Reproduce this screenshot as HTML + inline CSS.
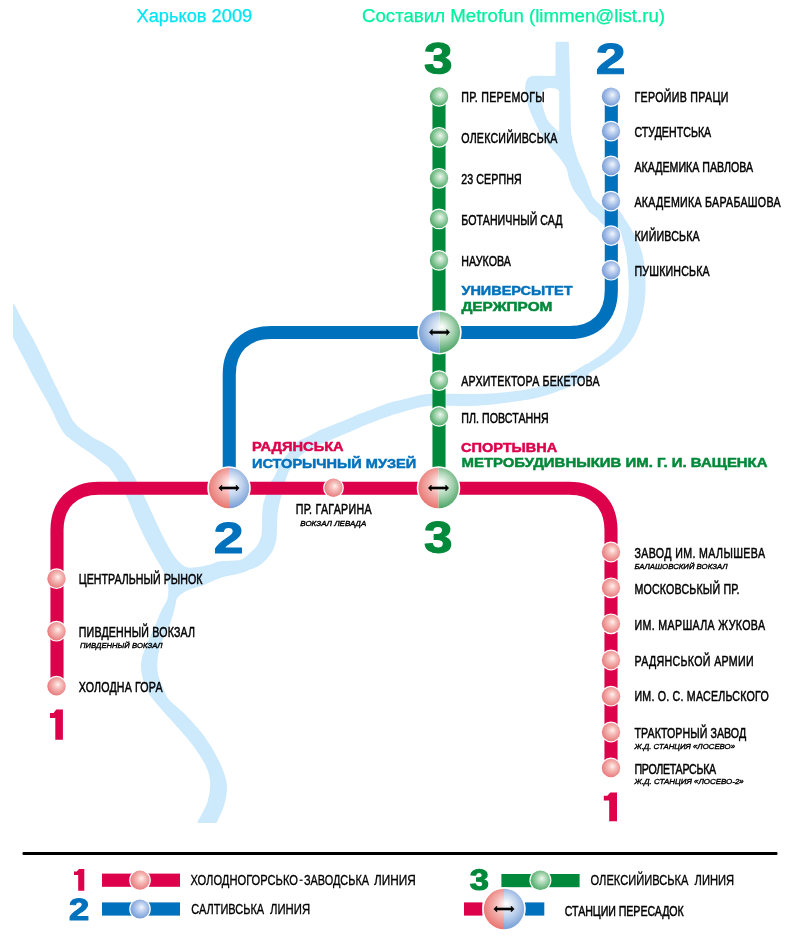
<!DOCTYPE html>
<html><head><meta charset="utf-8"><style>
html,body{margin:0;padding:0;background:#fff;width:800px;height:950px;overflow:hidden}
svg{display:block;will-change:transform}
</style></head><body>
<svg width="800" height="950" viewBox="0 0 800 950">
<defs><radialGradient id="gR" cx="0.55" cy="0.45" r="0.58" fx="0.58" fy="0.4"><stop offset="0" stop-color="#fff2ee"/><stop offset="0.35" stop-color="#f6c0bc"/><stop offset="1" stop-color="#e8767a"/></radialGradient><radialGradient id="gB" cx="0.55" cy="0.45" r="0.58" fx="0.58" fy="0.4"><stop offset="0" stop-color="#f2f6fd"/><stop offset="0.35" stop-color="#c2d3ef"/><stop offset="1" stop-color="#6f98d6"/></radialGradient><radialGradient id="gG" cx="0.55" cy="0.45" r="0.58" fx="0.58" fy="0.4"><stop offset="0" stop-color="#eef6ef"/><stop offset="0.35" stop-color="#b4dcbc"/><stop offset="1" stop-color="#48a863"/></radialGradient><radialGradient id="t1R" gradientUnits="userSpaceOnUse" cx="440.5" cy="330.3" r="24" fx="442.0" fy="326.8"><stop offset="0" stop-color="#ffffff"/><stop offset="0.2" stop-color="#f9dede"/><stop offset="0.5" stop-color="#f2b0ac"/><stop offset="1" stop-color="#e86e6a"/></radialGradient><radialGradient id="t1B" gradientUnits="userSpaceOnUse" cx="440.5" cy="330.3" r="24" fx="442.0" fy="326.8"><stop offset="0" stop-color="#ffffff"/><stop offset="0.2" stop-color="#e4ecf7"/><stop offset="0.5" stop-color="#bdd0ec"/><stop offset="1" stop-color="#6c98d3"/></radialGradient><radialGradient id="t1G" gradientUnits="userSpaceOnUse" cx="440.5" cy="330.3" r="24" fx="442.0" fy="326.8"><stop offset="0" stop-color="#ffffff"/><stop offset="0.2" stop-color="#ddeee1"/><stop offset="0.5" stop-color="#a8d3b2"/><stop offset="1" stop-color="#3f9e5c"/></radialGradient><radialGradient id="t2R" gradientUnits="userSpaceOnUse" cx="230" cy="486" r="24" fx="231.5" fy="482.5"><stop offset="0" stop-color="#ffffff"/><stop offset="0.2" stop-color="#f9dede"/><stop offset="0.5" stop-color="#f2b0ac"/><stop offset="1" stop-color="#e86e6a"/></radialGradient><radialGradient id="t2B" gradientUnits="userSpaceOnUse" cx="230" cy="486" r="24" fx="231.5" fy="482.5"><stop offset="0" stop-color="#ffffff"/><stop offset="0.2" stop-color="#e4ecf7"/><stop offset="0.5" stop-color="#bdd0ec"/><stop offset="1" stop-color="#6c98d3"/></radialGradient><radialGradient id="t2G" gradientUnits="userSpaceOnUse" cx="230" cy="486" r="24" fx="231.5" fy="482.5"><stop offset="0" stop-color="#ffffff"/><stop offset="0.2" stop-color="#ddeee1"/><stop offset="0.5" stop-color="#a8d3b2"/><stop offset="1" stop-color="#3f9e5c"/></radialGradient><radialGradient id="t3R" gradientUnits="userSpaceOnUse" cx="439.5" cy="486" r="24" fx="441.0" fy="482.5"><stop offset="0" stop-color="#ffffff"/><stop offset="0.2" stop-color="#f9dede"/><stop offset="0.5" stop-color="#f2b0ac"/><stop offset="1" stop-color="#e86e6a"/></radialGradient><radialGradient id="t3B" gradientUnits="userSpaceOnUse" cx="439.5" cy="486" r="24" fx="441.0" fy="482.5"><stop offset="0" stop-color="#ffffff"/><stop offset="0.2" stop-color="#e4ecf7"/><stop offset="0.5" stop-color="#bdd0ec"/><stop offset="1" stop-color="#6c98d3"/></radialGradient><radialGradient id="t3G" gradientUnits="userSpaceOnUse" cx="439.5" cy="486" r="24" fx="441.0" fy="482.5"><stop offset="0" stop-color="#ffffff"/><stop offset="0.2" stop-color="#ddeee1"/><stop offset="0.5" stop-color="#a8d3b2"/><stop offset="1" stop-color="#3f9e5c"/></radialGradient><radialGradient id="t4R" gradientUnits="userSpaceOnUse" cx="505" cy="907" r="24" fx="506.5" fy="903.5"><stop offset="0" stop-color="#ffffff"/><stop offset="0.2" stop-color="#f9dede"/><stop offset="0.5" stop-color="#f2b0ac"/><stop offset="1" stop-color="#e86e6a"/></radialGradient><radialGradient id="t4B" gradientUnits="userSpaceOnUse" cx="505" cy="907" r="24" fx="506.5" fy="903.5"><stop offset="0" stop-color="#ffffff"/><stop offset="0.2" stop-color="#e4ecf7"/><stop offset="0.5" stop-color="#bdd0ec"/><stop offset="1" stop-color="#6c98d3"/></radialGradient><radialGradient id="t4G" gradientUnits="userSpaceOnUse" cx="505" cy="907" r="24" fx="506.5" fy="903.5"><stop offset="0" stop-color="#ffffff"/><stop offset="0.2" stop-color="#ddeee1"/><stop offset="0.5" stop-color="#a8d3b2"/><stop offset="1" stop-color="#3f9e5c"/></radialGradient></defs>
<path d="M13.8,305.0 C13.8,310.4 13.8,332.1 13.8,337.5 C14.8,339.5 17.8,345.2 20.0,349.3 C22.2,353.4 24.4,357.5 26.7,361.9 C28.9,366.2 31.1,370.9 33.5,375.4 C35.9,379.9 38.6,384.6 41.0,388.8 C43.4,393.0 45.8,396.9 47.8,400.6 C49.8,404.3 51.4,407.4 53.2,411.0 C55.0,414.6 56.6,418.8 58.5,422.5 C60.4,426.2 62.6,430.2 64.8,433.0 C66.9,435.8 69.0,437.0 71.5,439.0 C74.0,441.0 76.9,443.0 79.8,445.0 C82.6,447.0 85.9,449.0 88.8,451.0 C91.6,453.0 94.4,455.0 97.0,457.0 C99.6,459.0 102.0,460.9 104.5,463.0 C107.0,465.1 108.3,464.4 112.0,469.8 C115.7,475.1 122.8,487.2 126.9,495.2 C131.0,503.2 133.3,511.0 136.4,517.9 C139.5,524.8 142.1,530.5 145.3,536.8 C148.5,543.1 152.5,550.5 155.4,555.8 C158.3,561.1 160.8,564.2 162.9,568.4 C165.0,572.6 166.9,577.4 168.0,581.0 C169.1,584.6 169.2,586.6 169.2,589.8 C169.2,593.0 169.2,596.4 168.0,600.0 C166.8,603.6 163.7,607.2 161.7,611.6 C159.7,616.0 157.9,621.4 155.8,626.3 C153.7,631.2 151.3,636.1 149.2,641.0 C147.1,645.9 144.5,651.6 143.3,655.8 C142.1,660.0 141.8,662.3 141.8,666.0 C141.8,669.7 142.1,673.5 143.3,677.9 C144.5,682.3 147.2,688.8 149.2,692.6 C151.2,696.4 151.3,696.2 155.3,700.9 C159.3,705.6 167.1,714.3 173.0,721.0 C178.9,727.7 185.2,734.1 190.7,741.3 C196.2,748.5 202.4,757.3 205.8,764.0 C209.2,770.7 210.5,775.4 210.9,781.7 C211.3,788.0 210.4,795.2 208.3,802.0 C206.2,808.8 199.9,818.8 198.2,822.2 C201.1,822.2 212.9,822.2 215.9,822.2 C217.2,819.2 221.8,810.8 223.5,804.5 C225.2,798.2 226.8,791.5 226.0,784.3 C225.2,777.1 222.2,769.5 218.4,761.5 C214.6,753.5 208.8,743.8 203.3,736.2 C197.8,728.6 191.4,722.0 185.6,716.0 C179.8,710.0 172.2,704.6 168.3,700.0 C164.4,695.4 164.2,692.4 162.4,688.2 C160.6,684.0 158.3,679.1 157.3,674.9 C156.3,670.7 156.3,667.5 156.5,663.1 C156.7,658.7 157.6,652.8 158.7,648.4 C159.8,644.0 161.2,641.0 163.1,636.6 C164.9,632.2 168.0,626.8 169.8,621.9 C171.7,617.0 173.0,611.1 174.2,607.0 C175.4,602.9 174.7,600.3 176.8,597.4 C178.9,594.5 182.7,591.9 186.9,589.8 C191.1,587.7 196.5,586.9 202.0,584.8 C207.5,582.7 213.7,579.2 220.0,577.2 C226.3,575.2 235.4,573.9 240.0,572.6 C244.6,571.4 244.0,571.2 247.4,569.7 C250.8,568.2 256.7,566.8 260.6,563.8 C264.5,560.8 268.5,555.9 271.0,552.0 C273.5,548.1 274.5,544.1 275.4,540.2 C276.2,536.3 275.9,532.8 276.1,528.4 C276.3,524.0 276.3,518.1 276.8,513.7 C277.3,509.3 277.5,507.9 279.0,501.9 C280.5,495.9 284.0,482.8 285.6,477.5 C287.2,472.2 287.5,472.4 288.8,470.0 C290.0,467.6 291.5,465.3 293.1,463.1 C294.7,460.9 296.3,458.8 298.1,456.9 C299.9,455.0 302.0,453.3 303.8,451.9 C305.5,450.5 306.9,449.8 308.8,448.8 C310.6,447.7 313.1,446.5 315.0,445.6 C316.9,444.7 317.5,444.5 320.0,443.5 C322.5,442.5 326.7,440.9 330.0,439.5 C333.3,438.1 336.7,436.4 340.0,435.0 C343.3,433.6 346.7,432.4 350.0,431.0 C353.3,429.6 356.7,427.9 360.0,426.5 C363.3,425.1 366.7,423.8 370.0,422.5 C373.3,421.2 376.7,419.8 380.0,418.5 C383.3,417.2 386.7,416.1 390.0,415.0 C393.3,413.9 396.7,413.0 400.0,412.0 C403.3,411.0 406.7,409.9 410.0,409.0 C413.3,408.1 416.7,407.2 420.0,406.5 C423.3,405.8 425.7,405.2 430.0,405.0 C434.3,404.8 437.7,405.0 446.0,405.0 C454.3,405.0 469.3,405.4 480.0,404.8 C490.7,404.2 500.0,402.9 510.0,401.5 C520.0,400.1 530.0,398.9 540.0,396.2 C550.0,393.6 562.5,388.9 570.0,385.8 C577.5,382.6 581.7,379.9 585.0,377.5 C588.3,375.1 586.4,374.3 590.0,371.6 C593.6,368.9 601.2,365.4 606.8,361.5 C612.4,357.6 619.2,352.5 623.7,348.0 C628.2,343.5 631.0,339.6 633.8,334.5 C636.6,329.4 638.8,323.3 640.5,317.7 C642.2,312.1 643.2,306.4 643.9,300.8 C644.6,295.2 644.7,289.6 644.7,284.0 C644.7,278.4 644.6,272.8 643.9,267.2 C643.2,261.6 642.2,255.6 640.5,250.3 C638.8,245.0 636.5,240.4 633.8,235.2 C631.0,230.0 626.6,223.0 624.0,219.0 C621.4,215.0 621.0,212.8 618.0,211.0 C615.0,209.2 609.0,209.4 606.0,208.5 C603.0,207.6 602.2,207.2 600.0,205.5 C597.8,203.8 594.2,200.6 592.5,198.0 C590.8,195.4 590.8,193.3 589.5,190.0 C588.2,186.7 586.5,181.8 585.0,178.0 C583.5,174.2 581.9,170.8 580.5,167.5 C579.1,164.2 578.1,163.5 576.5,158.0 C574.9,152.5 571.7,142.7 570.6,134.3 C569.5,125.9 570.1,117.5 569.8,107.4 C569.5,97.3 569.3,84.5 569.0,73.7 C568.7,62.9 568.2,47.7 568.0,42.5 C566.0,42.5 558.2,42.5 556.3,42.5 C556.3,48.2 556.3,70.8 556.3,76.5 C555.0,76.5 552.8,76.8 548.7,76.8 C544.6,76.8 535.5,75.9 531.9,76.8 C528.2,77.7 527.8,79.8 526.8,82.1 C525.8,84.4 525.7,86.8 526.0,90.5 C526.3,94.2 527.2,99.5 528.5,104.0 C529.8,108.5 531.4,112.5 533.6,117.5 C535.9,122.5 538.9,129.2 542.0,134.3 C545.1,139.4 548.9,143.9 552.0,147.8 C555.1,151.7 558.0,154.5 560.5,157.9 C563.0,161.3 565.4,164.4 567.0,168.0 C568.6,171.6 568.8,175.8 570.0,179.5 C571.2,183.2 572.2,186.2 574.5,190.0 C576.8,193.8 581.0,198.5 583.5,202.0 C586.0,205.5 587.2,208.5 589.5,211.0 C591.8,213.5 594.5,214.8 597.0,217.0 C599.5,219.2 601.0,222.9 604.5,224.5 C608.0,226.1 614.6,224.1 617.8,226.7 C621.0,229.3 622.2,235.7 623.7,240.2 C625.2,244.7 626.2,248.6 627.0,253.7 C627.8,258.8 628.3,264.9 628.7,270.5 C629.1,276.1 629.6,281.8 629.6,287.4 C629.6,293.0 629.4,298.6 628.7,304.2 C628.0,309.8 627.1,315.4 625.4,321.0 C623.7,326.6 621.7,332.8 618.6,337.9 C615.5,343.0 611.6,347.2 606.8,351.4 C602.0,355.6 593.6,360.8 590.0,363.2 C586.4,365.6 588.3,363.6 585.0,365.5 C581.7,367.4 577.5,370.9 570.0,374.5 C562.5,378.1 550.0,384.2 540.0,387.2 C530.0,390.2 520.0,391.2 510.0,392.5 C500.0,393.8 490.7,394.5 480.0,394.8 C469.3,395.1 454.3,394.6 446.0,394.5 C437.7,394.4 434.3,394.2 430.0,394.5 C425.7,394.8 423.3,395.3 420.0,396.0 C416.7,396.7 413.3,397.7 410.0,398.5 C406.7,399.3 403.3,400.2 400.0,401.0 C396.7,401.8 393.3,402.5 390.0,403.5 C386.7,404.5 383.3,405.8 380.0,407.0 C376.7,408.2 373.3,409.8 370.0,411.0 C366.7,412.2 363.3,413.2 360.0,414.5 C356.7,415.8 353.3,417.6 350.0,419.0 C346.7,420.4 343.3,421.7 340.0,423.0 C336.7,424.3 333.3,425.7 330.0,427.0 C326.7,428.3 323.5,429.3 320.0,431.0 C316.5,432.7 312.2,435.2 308.8,437.0 C305.3,438.8 301.8,440.0 299.4,441.5 C297.0,443.0 296.2,444.2 294.4,446.2 C292.6,448.3 290.5,451.5 288.8,453.8 C287.0,456.0 285.4,457.5 283.8,460.0 C282.1,462.5 280.2,465.8 278.8,468.8 C277.3,471.7 276.3,475.1 275.0,477.5 C273.7,479.9 272.4,479.9 271.0,483.0 C269.6,486.1 267.7,492.1 266.5,496.0 C265.3,499.9 264.2,502.1 263.6,506.3 C263.0,510.5 263.1,516.1 262.8,521.0 C262.6,525.9 263.0,531.6 262.1,535.8 C261.2,540.0 259.9,542.9 257.7,546.1 C255.5,549.3 251.8,552.5 248.8,555.0 C245.9,557.5 244.8,559.6 240.0,560.8 C235.2,562.0 225.3,561.1 220.0,562.0 C214.7,562.9 212.9,564.8 208.4,565.9 C203.9,567.0 197.2,568.2 193.2,568.4 C189.2,568.6 187.1,568.4 184.4,567.1 C181.7,565.8 179.1,563.3 176.8,560.8 C174.5,558.3 173.2,556.6 170.5,552.0 C167.8,547.4 163.6,539.3 160.4,533.0 C157.2,526.7 154.6,520.4 151.6,514.1 C148.6,507.8 145.7,501.3 142.7,495.2 C139.7,489.1 136.7,482.9 133.8,477.5 C130.8,472.1 128.1,466.8 125.0,462.5 C121.9,458.2 117.9,454.4 115.0,451.8 C112.1,449.1 110.0,448.1 107.5,446.5 C105.0,444.9 102.5,443.4 100.0,442.0 C97.5,440.6 95.0,439.8 92.5,438.2 C90.0,436.8 87.5,434.9 85.0,433.0 C82.5,431.1 79.6,429.0 77.5,427.0 C75.4,425.0 73.8,423.2 72.2,421.0 C70.8,418.8 70.2,417.4 68.5,414.0 C66.8,410.6 64.3,405.1 62.1,400.6 C59.9,396.1 57.8,392.1 55.4,387.2 C53.0,382.3 50.2,376.3 47.8,371.2 C45.4,366.1 43.5,362.0 41.0,356.8 C38.5,351.6 35.5,345.4 32.6,340.0 C29.7,334.6 26.8,330.0 23.7,324.2 C20.6,318.4 15.4,308.2 13.8,305.0Z" fill="#cde9fc" stroke="#cde9fc" stroke-width="1.6" stroke-linejoin="round"/><path d="M541.2,95.0 C540.8,98.0 542.5,103.1 543.7,107.4 C545.0,111.7 546.2,116.9 548.7,120.8 C551.2,124.7 557.0,129.3 558.6,131.0 C558.6,124.4 558.6,98.1 558.6,91.5 C558.1,91.1 557.6,89.6 555.5,89.2 C553.4,88.8 548.4,88.2 546.0,89.2 C543.6,90.2 541.6,92.0 541.2,95.0Z" fill="#fff" stroke="#fff" stroke-width="1.2" stroke-linejoin="round"/><path d="M439,100 V488" stroke="#00893a" stroke-width="13.1" fill="none"/><path d="M611.3,100 L611.30,290.50 C611.30,316.54 595.34,332.50 569.30,332.50 L271.25,332.50 C245.21,332.50 229.25,348.46 229.25,374.50 L229.25,488" stroke="#0071bc" stroke-width="13.1" fill="none"/><path d="M57,686 L57.00,530.20 C57.00,504.16 72.96,488.20 99.00,488.20 L569.00,488.20 C595.04,488.20 611.00,504.16 611.00,530.20 L611,768" stroke="#dd004b" stroke-width="13.1" fill="none"/><circle cx="439" cy="96.4" r="10.399999999999999" fill="#fff"/><circle cx="439" cy="96.4" r="9.2" fill="url(#gG)"/><circle cx="439" cy="137.3" r="10.399999999999999" fill="#fff"/><circle cx="439" cy="137.3" r="9.2" fill="url(#gG)"/><circle cx="439" cy="178.3" r="10.399999999999999" fill="#fff"/><circle cx="439" cy="178.3" r="9.2" fill="url(#gG)"/><circle cx="439" cy="218.9" r="10.399999999999999" fill="#fff"/><circle cx="439" cy="218.9" r="9.2" fill="url(#gG)"/><circle cx="439" cy="260.4" r="10.399999999999999" fill="#fff"/><circle cx="439" cy="260.4" r="9.2" fill="url(#gG)"/><circle cx="439" cy="380.6" r="10.399999999999999" fill="#fff"/><circle cx="439" cy="380.6" r="9.2" fill="url(#gG)"/><circle cx="439" cy="416.4" r="10.399999999999999" fill="#fff"/><circle cx="439" cy="416.4" r="9.2" fill="url(#gG)"/><circle cx="611" cy="96.6" r="10.399999999999999" fill="#fff"/><circle cx="611" cy="96.6" r="9.2" fill="url(#gB)"/><circle cx="611" cy="131.1" r="10.399999999999999" fill="#fff"/><circle cx="611" cy="131.1" r="9.2" fill="url(#gB)"/><circle cx="611" cy="166" r="10.399999999999999" fill="#fff"/><circle cx="611" cy="166" r="9.2" fill="url(#gB)"/><circle cx="611" cy="201.1" r="10.399999999999999" fill="#fff"/><circle cx="611" cy="201.1" r="9.2" fill="url(#gB)"/><circle cx="611" cy="235.6" r="10.399999999999999" fill="#fff"/><circle cx="611" cy="235.6" r="9.2" fill="url(#gB)"/><circle cx="611" cy="270.2" r="10.399999999999999" fill="#fff"/><circle cx="611" cy="270.2" r="9.2" fill="url(#gB)"/><circle cx="56.5" cy="578.7" r="10.399999999999999" fill="#fff"/><circle cx="56.5" cy="578.7" r="9.2" fill="url(#gR)"/><circle cx="56.5" cy="631.2" r="10.399999999999999" fill="#fff"/><circle cx="56.5" cy="631.2" r="9.2" fill="url(#gR)"/><circle cx="56.5" cy="686.2" r="10.399999999999999" fill="#fff"/><circle cx="56.5" cy="686.2" r="9.2" fill="url(#gR)"/><circle cx="611" cy="552" r="10.399999999999999" fill="#fff"/><circle cx="611" cy="552" r="9.2" fill="url(#gR)"/><circle cx="611" cy="587.8" r="10.399999999999999" fill="#fff"/><circle cx="611" cy="587.8" r="9.2" fill="url(#gR)"/><circle cx="611" cy="623.8" r="10.399999999999999" fill="#fff"/><circle cx="611" cy="623.8" r="9.2" fill="url(#gR)"/><circle cx="611" cy="660" r="10.399999999999999" fill="#fff"/><circle cx="611" cy="660" r="9.2" fill="url(#gR)"/><circle cx="611" cy="696.2" r="10.399999999999999" fill="#fff"/><circle cx="611" cy="696.2" r="9.2" fill="url(#gR)"/><circle cx="611" cy="732" r="10.399999999999999" fill="#fff"/><circle cx="611" cy="732" r="9.2" fill="url(#gR)"/><circle cx="611" cy="768" r="10.399999999999999" fill="#fff"/><circle cx="611" cy="768" r="9.2" fill="url(#gR)"/><circle cx="333.5" cy="487.8" r="10.399999999999999" fill="#fff"/><circle cx="333.5" cy="487.8" r="9.2" fill="url(#gR)"/><circle cx="439.5" cy="332.3" r="22.200000000000003" fill="#fff"/><path d="M439.5,311.7 A20.6,20.6 0 0,0 439.5,352.90000000000003 Z" fill="url(#t1B)"/><path d="M439.5,311.7 A20.6,20.6 0 0,1 439.5,352.90000000000003 Z" fill="url(#t1G)"/><path d="M429.3,332.3 L432.3,329.3 L432.3,331.2 L446.7,331.2 L446.7,329.3 L449.7,332.3 L446.7,335.3 L446.7,333.40000000000003 L432.3,333.40000000000003 L432.3,335.3 Z" fill="#000" stroke="#000" stroke-width="0.5" stroke-linejoin="round"/><circle cx="229" cy="488" r="21.8" fill="#fff"/><path d="M229,467.8 A20.2,20.2 0 0,0 229,508.2 Z" fill="url(#t2R)"/><path d="M229,467.8 A20.2,20.2 0 0,1 229,508.2 Z" fill="url(#t2B)"/><path d="M218.8,488 L221.8,485.0 L221.8,486.9 L236.2,486.9 L236.2,485.0 L239.2,488 L236.2,491.0 L236.2,489.1 L221.8,489.1 L221.8,491.0 Z" fill="#000" stroke="#000" stroke-width="0.5" stroke-linejoin="round"/><circle cx="438.5" cy="488" r="21.8" fill="#fff"/><path d="M438.5,467.8 A20.2,20.2 0 0,0 438.5,508.2 Z" fill="url(#t3R)"/><path d="M438.5,467.8 A20.2,20.2 0 0,1 438.5,508.2 Z" fill="url(#t3G)"/><path d="M428.3,488 L431.3,485.0 L431.3,486.9 L445.7,486.9 L445.7,485.0 L448.7,488 L445.7,491.0 L445.7,489.1 L431.3,489.1 L431.3,491.0 Z" fill="#000" stroke="#000" stroke-width="0.5" stroke-linejoin="round"/><text transform="translate(461.3,102) scale(0.74,1)" x="0" y="0" font-family="'Liberation Sans', sans-serif" font-size="14.4" font-weight="normal" font-style="normal" fill="#000" stroke="#000" stroke-width="0.5" textLength="112.70" lengthAdjust="spacing">ПР. ПЕРЕМОГЫ</text><text transform="translate(461.3,143) scale(0.74,1)" x="0" y="0" font-family="'Liberation Sans', sans-serif" font-size="14.4" font-weight="normal" font-style="normal" fill="#000" stroke="#000" stroke-width="0.5" textLength="129.86" lengthAdjust="spacing">ОЛЕКСИЙИВСЬКА</text><text transform="translate(461.3,184) scale(0.74,1)" x="0" y="0" font-family="'Liberation Sans', sans-serif" font-size="14.4" font-weight="normal" font-style="normal" fill="#000" stroke="#000" stroke-width="0.5" textLength="81.49" lengthAdjust="spacing">23 СЕРПНЯ</text><text transform="translate(461.3,224.6) scale(0.74,1)" x="0" y="0" font-family="'Liberation Sans', sans-serif" font-size="14.4" font-weight="normal" font-style="normal" fill="#000" stroke="#000" stroke-width="0.5" textLength="136.89" lengthAdjust="spacing">БОТАНИЧНЫЙ САД</text><text transform="translate(461.3,266) scale(0.74,1)" x="0" y="0" font-family="'Liberation Sans', sans-serif" font-size="14.4" font-weight="normal" font-style="normal" fill="#000" stroke="#000" stroke-width="0.5" textLength="67.16" lengthAdjust="spacing">НАУКОВА</text><text transform="translate(461.3,385.8) scale(0.74,1)" x="0" y="0" font-family="'Liberation Sans', sans-serif" font-size="14.4" font-weight="normal" font-style="normal" fill="#000" stroke="#000" stroke-width="0.5" textLength="186.76" lengthAdjust="spacing">АРХИТЕКТОРА БЕКЕТОВА</text><text transform="translate(461.3,422.5) scale(0.74,1)" x="0" y="0" font-family="'Liberation Sans', sans-serif" font-size="14.4" font-weight="normal" font-style="normal" fill="#000" stroke="#000" stroke-width="0.5" textLength="118.11" lengthAdjust="spacing">ПЛ. ПОВСТАННЯ</text><text transform="translate(634.5,102) scale(0.74,1)" x="0" y="0" font-family="'Liberation Sans', sans-serif" font-size="14.4" font-weight="normal" font-style="normal" fill="#000" stroke="#000" stroke-width="0.5" textLength="126.76" lengthAdjust="spacing">ГЕРОЙИВ ПРАЦИ</text><text transform="translate(634.5,136.6) scale(0.74,1)" x="0" y="0" font-family="'Liberation Sans', sans-serif" font-size="14.4" font-weight="normal" font-style="normal" fill="#000" stroke="#000" stroke-width="0.5" textLength="103.65" lengthAdjust="spacing">СТУДЕНТСЬКА</text><text transform="translate(634.5,171.5) scale(0.74,1)" x="0" y="0" font-family="'Liberation Sans', sans-serif" font-size="14.4" font-weight="normal" font-style="normal" fill="#000" stroke="#000" stroke-width="0.5" textLength="160.41" lengthAdjust="spacing">АКАДЕМИКА ПАВЛОВА</text><text transform="translate(634.5,206.6) scale(0.74,1)" x="0" y="0" font-family="'Liberation Sans', sans-serif" font-size="14.4" font-weight="normal" font-style="normal" fill="#000" stroke="#000" stroke-width="0.5" textLength="197.30" lengthAdjust="spacing">АКАДЕМИКА БАРАБАШОВА</text><text transform="translate(634.5,241.1) scale(0.74,1)" x="0" y="0" font-family="'Liberation Sans', sans-serif" font-size="14.4" font-weight="normal" font-style="normal" fill="#000" stroke="#000" stroke-width="0.5" textLength="88.11" lengthAdjust="spacing">КИЙИВСЬКА</text><text transform="translate(634.5,275.7) scale(0.74,1)" x="0" y="0" font-family="'Liberation Sans', sans-serif" font-size="14.4" font-weight="normal" font-style="normal" fill="#000" stroke="#000" stroke-width="0.5" textLength="101.62" lengthAdjust="spacing">ПУШКИНСЬКА</text><text transform="translate(78.8,583.8) scale(0.74,1)" x="0" y="0" font-family="'Liberation Sans', sans-serif" font-size="14.4" font-weight="normal" font-style="normal" fill="#000" stroke="#000" stroke-width="0.5" textLength="167.16" lengthAdjust="spacing">ЦЕНТРАЛЬНЫЙ РЫНОК</text><text transform="translate(78.8,636.7) scale(0.74,1)" x="0" y="0" font-family="'Liberation Sans', sans-serif" font-size="14.4" font-weight="normal" font-style="normal" fill="#000" stroke="#000" stroke-width="0.5" textLength="157.03" lengthAdjust="spacing">ПИВДЕННЫЙ ВОКЗАЛ</text><text transform="translate(78.8,691.6) scale(0.74,1)" x="0" y="0" font-family="'Liberation Sans', sans-serif" font-size="14.4" font-weight="normal" font-style="normal" fill="#000" stroke="#000" stroke-width="0.5" textLength="113.11" lengthAdjust="spacing">ХОЛОДНА ГОРА</text><text transform="translate(295.8,514.3) scale(0.74,1)" x="0" y="0" font-family="'Liberation Sans', sans-serif" font-size="14.4" font-weight="normal" font-style="normal" fill="#000" stroke="#000" stroke-width="0.5" textLength="102.30" lengthAdjust="spacing">ПР. ГАГАРИНА</text><text transform="translate(634.5,558) scale(0.74,1)" x="0" y="0" font-family="'Liberation Sans', sans-serif" font-size="14.4" font-weight="normal" font-style="normal" fill="#000" stroke="#000" stroke-width="0.5" textLength="176.35" lengthAdjust="spacing">ЗАВОД ИМ. МАЛЫШЕВА</text><text transform="translate(634.5,593.8) scale(0.74,1)" x="0" y="0" font-family="'Liberation Sans', sans-serif" font-size="14.4" font-weight="normal" font-style="normal" fill="#000" stroke="#000" stroke-width="0.5" textLength="141.89" lengthAdjust="spacing">МОСКОВСЬКЫЙ ПР.</text><text transform="translate(634.5,629.7) scale(0.74,1)" x="0" y="0" font-family="'Liberation Sans', sans-serif" font-size="14.4" font-weight="normal" font-style="normal" fill="#000" stroke="#000" stroke-width="0.5" textLength="176.35" lengthAdjust="spacing">ИМ. МАРШАЛА ЖУКОВА</text><text transform="translate(634.5,665.5) scale(0.74,1)" x="0" y="0" font-family="'Liberation Sans', sans-serif" font-size="14.4" font-weight="normal" font-style="normal" fill="#000" stroke="#000" stroke-width="0.5" textLength="161.08" lengthAdjust="spacing">РАДЯНСЬКОЙ АРМИИ</text><text transform="translate(634.5,701.4) scale(0.74,1)" x="0" y="0" font-family="'Liberation Sans', sans-serif" font-size="14.4" font-weight="normal" font-style="normal" fill="#000" stroke="#000" stroke-width="0.5" textLength="181.35" lengthAdjust="spacing">ИМ. О. С. МАСЕЛЬСКОГО</text><text transform="translate(634.5,738) scale(0.74,1)" x="0" y="0" font-family="'Liberation Sans', sans-serif" font-size="14.4" font-weight="normal" font-style="normal" fill="#000" stroke="#000" stroke-width="0.5" textLength="150.95" lengthAdjust="spacing">ТРАКТОРНЫЙ ЗАВОД</text><text transform="translate(634.5,773.8) scale(0.74,1)" x="0" y="0" font-family="'Liberation Sans', sans-serif" font-size="14.4" font-weight="normal" font-style="normal" fill="#000" stroke="#000" stroke-width="0.5" textLength="110.41" lengthAdjust="spacing">ПРОЛЕТАРСЬКА</text><text x="300.3" y="525.5" font-family="'Liberation Sans', sans-serif" font-size="8.1" font-weight="normal" font-style="italic" fill="#000" stroke="#000" stroke-width="0.4" textLength="66" lengthAdjust="spacingAndGlyphs">ВОКЗАЛ ЛЕВАДА</text><text x="80" y="648" font-family="'Liberation Sans', sans-serif" font-size="8.1" font-weight="normal" font-style="italic" fill="#000" stroke="#000" stroke-width="0.4" textLength="82.5" lengthAdjust="spacingAndGlyphs">ПИВДЕННЫЙ ВОКЗАЛ</text><text x="634.5" y="568.8" font-family="'Liberation Sans', sans-serif" font-size="8.1" font-weight="normal" font-style="italic" fill="#000" stroke="#000" stroke-width="0.4" textLength="93" lengthAdjust="spacingAndGlyphs">БАЛАШОВСКИЙ ВОКЗАЛ</text><text x="634.5" y="748.8" font-family="'Liberation Sans', sans-serif" font-size="8.1" font-weight="normal" font-style="italic" fill="#000" stroke="#000" stroke-width="0.4" textLength="100.5" lengthAdjust="spacingAndGlyphs">Ж.Д. СТАНЦИЯ «ЛОСЕВО»</text><text x="634.5" y="784.3" font-family="'Liberation Sans', sans-serif" font-size="8.1" font-weight="normal" font-style="italic" fill="#000" stroke="#000" stroke-width="0.4" textLength="109.2" lengthAdjust="spacingAndGlyphs">Ж.Д. СТАНЦИЯ «ЛОСЕВО-2»</text><text x="461.4" y="295.1" font-family="'Liberation Sans', sans-serif" font-size="13.6" font-weight="bold" font-style="normal" fill="#0071bc" stroke="#0071bc" stroke-width="0.5" textLength="111.1" lengthAdjust="spacingAndGlyphs">УНИВЕРСЫТЕТ</text><text x="461.4" y="311.4" font-family="'Liberation Sans', sans-serif" font-size="13.6" font-weight="bold" font-style="normal" fill="#00893a" stroke="#00893a" stroke-width="0.5" textLength="91" lengthAdjust="spacingAndGlyphs">ДЕРЖПРОМ</text><text x="252" y="451.3" font-family="'Liberation Sans', sans-serif" font-size="13.6" font-weight="bold" font-style="normal" fill="#dd004b" stroke="#dd004b" stroke-width="0.5" textLength="91.7" lengthAdjust="spacingAndGlyphs">РАДЯНСЬКА</text><text x="252" y="467.5" font-family="'Liberation Sans', sans-serif" font-size="13.6" font-weight="bold" font-style="normal" fill="#0071bc" stroke="#0071bc" stroke-width="0.5" textLength="164.2" lengthAdjust="spacingAndGlyphs">ИСТОРЫЧНЫЙ МУЗЕЙ</text><text x="461" y="451.7" font-family="'Liberation Sans', sans-serif" font-size="13.6" font-weight="bold" font-style="normal" fill="#dd004b" stroke="#dd004b" stroke-width="0.5" textLength="96.3" lengthAdjust="spacingAndGlyphs">СПОРТЫВНА</text><text x="461.5" y="467.2" font-family="'Liberation Sans', sans-serif" font-size="13.6" font-weight="bold" font-style="normal" fill="#00893a" stroke="#00893a" stroke-width="0.5" textLength="306" lengthAdjust="spacingAndGlyphs">МЕТРОБУДИВНЫКИВ ИМ. Г. И. ВАЩЕНКА</text><text x="136.5" y="22.3" font-family="'Liberation Sans', sans-serif" font-size="18" font-weight="normal" font-style="normal" fill="#00e4f4" stroke="#00e4f4" stroke-width="0.25" textLength="115.7" lengthAdjust="spacingAndGlyphs">Харьков 2009</text><text x="362" y="22.3" font-family="'Liberation Sans', sans-serif" font-size="18" font-weight="normal" font-style="normal" fill="#00f0a0" stroke="#00f0a0" stroke-width="0.25" textLength="303" lengthAdjust="spacingAndGlyphs">Составил Metrofun (limmen@list.ru)</text><path transform="matrix(0.025049,0,0,-0.021404,424.023,73.308)" d="M1065 391Q1065 193 935.0 85.0Q805 -23 565 -23Q338 -23 204.0 81.5Q70 186 47 383L333 408Q360 205 564 205Q665 205 721.0 255.0Q777 305 777 408Q777 502 709.0 552.0Q641 602 507 602H409V829H501Q622 829 683.0 878.5Q744 928 744 1020Q744 1107 695.5 1156.5Q647 1206 554 1206Q467 1206 413.5 1158.0Q360 1110 352 1022L71 1042Q93 1224 222.0 1327.0Q351 1430 559 1430Q780 1430 904.5 1330.5Q1029 1231 1029 1055Q1029 923 951.5 838.0Q874 753 728 725V721Q890 702 977.5 614.5Q1065 527 1065 391Z" fill="#00893a" stroke="#00893a" stroke-width="51.67" stroke-linejoin="round"/><path transform="matrix(0.026166,0,0,-0.021189,595.742,73.800)" d="M71 0V195Q126 316 227.5 431.0Q329 546 483 671Q631 791 690.5 869.0Q750 947 750 1022Q750 1206 565 1206Q475 1206 427.5 1157.5Q380 1109 366 1012L83 1028Q107 1224 229.5 1327.0Q352 1430 563 1430Q791 1430 913.0 1326.0Q1035 1222 1035 1034Q1035 935 996.0 855.0Q957 775 896.0 707.5Q835 640 760.5 581.0Q686 522 616.0 466.0Q546 410 488.5 353.0Q431 296 403 231H1057V0Z" fill="#0071bc" stroke="#0071bc" stroke-width="50.68" stroke-linejoin="round"/><path transform="matrix(0.025049,0,0,-0.021610,424.023,552.403)" d="M1065 391Q1065 193 935.0 85.0Q805 -23 565 -23Q338 -23 204.0 81.5Q70 186 47 383L333 408Q360 205 564 205Q665 205 721.0 255.0Q777 305 777 408Q777 502 709.0 552.0Q641 602 507 602H409V829H501Q622 829 683.0 878.5Q744 928 744 1020Q744 1107 695.5 1156.5Q647 1206 554 1206Q467 1206 413.5 1158.0Q360 1110 352 1022L71 1042Q93 1224 222.0 1327.0Q351 1430 559 1430Q780 1430 904.5 1330.5Q1029 1231 1029 1055Q1029 923 951.5 838.0Q874 753 728 725V721Q890 702 977.5 614.5Q1065 527 1065 391Z" fill="#00893a" stroke="#00893a" stroke-width="51.44" stroke-linejoin="round"/><path transform="matrix(0.026166,0,0,-0.021189,213.742,552.900)" d="M71 0V195Q126 316 227.5 431.0Q329 546 483 671Q631 791 690.5 869.0Q750 947 750 1022Q750 1206 565 1206Q475 1206 427.5 1157.5Q380 1109 366 1012L83 1028Q107 1224 229.5 1327.0Q352 1430 563 1430Q791 1430 913.0 1326.0Q1035 1222 1035 1034Q1035 935 996.0 855.0Q957 775 896.0 707.5Q835 640 760.5 581.0Q686 522 616.0 466.0Q546 410 488.5 353.0Q431 296 403 231H1057V0Z" fill="#0071bc" stroke="#0071bc" stroke-width="50.68" stroke-linejoin="round"/><polygon points="55.3,739.7 55.3,717.9 50.0,717.9 50.0,712.9 53.5,712.9 56.3,709.5 62.9,709.5 62.9,739.7" fill="#dd004b"/><polygon points="609.2,821.3 609.2,800.5 603.8,800.5 603.8,795.7 607.4,795.7 610.2,792.5 617.0,792.5 617.0,821.3" fill="#dd004b"/><rect x="22.5" y="851.9" width="755" height="3.0" rx="1" fill="#000"/><rect x="102" y="873.6" width="78" height="13.2" fill="#dd004b"/><circle cx="140" cy="880.2" r="10.799999999999999" fill="#fff"/><circle cx="140" cy="880.2" r="9.6" fill="url(#gR)"/><rect x="102" y="902.4" width="78" height="13.2" fill="#0071bc"/><circle cx="140" cy="909" r="10.799999999999999" fill="#fff"/><circle cx="140" cy="909" r="9.6" fill="url(#gB)"/><polygon points="78.2,890.8 78.2,875.0 74.0,875.0 74.0,871.4 76.8,871.4 79.0,868.9 84.3,868.9 84.3,890.8" fill="#dd004b"/><path transform="matrix(0.017850,0,0,-0.014965,68.933,919.900)" d="M71 0V195Q126 316 227.5 431.0Q329 546 483 671Q631 791 690.5 869.0Q750 947 750 1022Q750 1206 565 1206Q475 1206 427.5 1157.5Q380 1109 366 1012L83 1028Q107 1224 229.5 1327.0Q352 1430 563 1430Q791 1430 913.0 1326.0Q1035 1222 1035 1034Q1035 935 996.0 855.0Q957 775 896.0 707.5Q835 640 760.5 581.0Q686 522 616.0 466.0Q546 410 488.5 353.0Q431 296 403 231H1057V0Z" fill="#0071bc" stroke="#0071bc" stroke-width="73.14" stroke-linejoin="round"/><text x="190.5" y="884.8" font-family="'Liberation Sans', sans-serif" font-size="14.9" font-weight="normal" font-style="normal" fill="#000" stroke="#000" stroke-width="0.35" textLength="107.5" lengthAdjust="spacingAndGlyphs">ХОЛОДНОГОРСЬКО</text><text x="303.9" y="884.8" font-family="'Liberation Sans', sans-serif" font-size="14.9" font-weight="normal" font-style="normal" fill="#000" stroke="#000" stroke-width="0.35" textLength="65.20000000000005" lengthAdjust="spacingAndGlyphs">ЗАВОДСЬКА</text><text x="374.1" y="884.8" font-family="'Liberation Sans', sans-serif" font-size="14.9" font-weight="normal" font-style="normal" fill="#000" stroke="#000" stroke-width="0.35" textLength="41.799999999999955" lengthAdjust="spacingAndGlyphs">ЛИНИЯ</text><text x="191.25" y="914.3" font-family="'Liberation Sans', sans-serif" font-size="14.9" font-weight="normal" font-style="normal" fill="#000" stroke="#000" stroke-width="0.35" textLength="72.94999999999999" lengthAdjust="spacingAndGlyphs">САЛТИВСЬКА</text><text x="270.0" y="914.3" font-family="'Liberation Sans', sans-serif" font-size="14.9" font-weight="normal" font-style="normal" fill="#000" stroke="#000" stroke-width="0.35" textLength="40.10000000000002" lengthAdjust="spacingAndGlyphs">ЛИНИЯ</text><text x="590.6" y="885.3" font-family="'Liberation Sans', sans-serif" font-size="14.9" font-weight="normal" font-style="normal" fill="#000" stroke="#000" stroke-width="0.35" textLength="97.89999999999998" lengthAdjust="spacingAndGlyphs">ОЛЕКСИЙИВСЬКА</text><text x="694.6" y="885.3" font-family="'Liberation Sans', sans-serif" font-size="14.9" font-weight="normal" font-style="normal" fill="#000" stroke="#000" stroke-width="0.35" textLength="39.5" lengthAdjust="spacingAndGlyphs">ЛИНИЯ</text><rect x="299.6" y="879.6" width="3" height="1.3" fill="#141414"/><rect x="501.4" y="874" width="78.2" height="13.2" fill="#00893a"/><circle cx="540.4" cy="880.3" r="11.0" fill="#fff"/><circle cx="540.4" cy="880.3" r="9.8" fill="url(#gG)"/><path transform="matrix(0.016896,0,0,-0.014178,469.706,889.674)" d="M1065 391Q1065 193 935.0 85.0Q805 -23 565 -23Q338 -23 204.0 81.5Q70 186 47 383L333 408Q360 205 564 205Q665 205 721.0 255.0Q777 305 777 408Q777 502 709.0 552.0Q641 602 507 602H409V829H501Q622 829 683.0 878.5Q744 928 744 1020Q744 1107 695.5 1156.5Q647 1206 554 1206Q467 1206 413.5 1158.0Q360 1110 352 1022L71 1042Q93 1224 222.0 1327.0Q351 1430 559 1430Q780 1430 904.5 1330.5Q1029 1231 1029 1055Q1029 923 951.5 838.0Q874 753 728 725V721Q890 702 977.5 614.5Q1065 527 1065 391Z" fill="#00893a" stroke="#00893a" stroke-width="77.24" stroke-linejoin="round"/><rect x="464" y="902.4" width="18.5" height="13.2" fill="#dd004b"/><rect x="525" y="902.4" width="19.3" height="13.2" fill="#0071bc"/><circle cx="504" cy="909" r="21.8" fill="#fff"/><path d="M504,888.8 A20.2,20.2 0 0,0 504,929.2 Z" fill="url(#t4R)"/><path d="M504,888.8 A20.2,20.2 0 0,1 504,929.2 Z" fill="url(#t4B)"/><path d="M493.8,909 L496.8,906.0 L496.8,907.9 L511.20000000000005,907.9 L511.20000000000005,906.0 L514.2,909 L511.20000000000005,912.0 L511.20000000000005,910.1 L496.8,910.1 L496.8,912.0 Z" fill="#000" stroke="#000" stroke-width="0.5" stroke-linejoin="round"/><text transform="translate(564.8,915.9) scale(0.74,1)" x="0" y="0" font-family="'Liberation Sans', sans-serif" font-size="14.4" font-weight="normal" font-style="normal" fill="#000" stroke="#000" stroke-width="0.5" textLength="160.81" lengthAdjust="spacing">СТАНЦИИ ПЕРЕСАДОК</text>
</svg>
</body></html>
